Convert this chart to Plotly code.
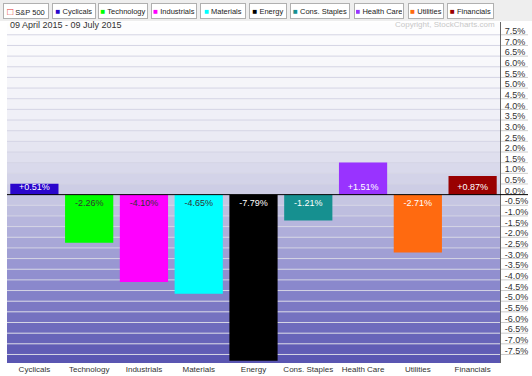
import numpy as np
import plotly.graph_objects as go

# ---- data ----
categories = ["Cyclicals", "Technology", "Industrials", "Materials", "Energy",
              "Cons. Staples", "Health Care", "Utilities", "Financials"]
values = [0.51, -2.26, -4.10, -4.65, -7.79, -1.21, 1.51, -2.71, 0.87]
bar_colors = ["#2a06cc", "#00ff00", "#ff00ff", "#00ffff", "#000000",
              "#169090", "#9933ff", "#ff6a10", "#990000"]
text_colors = ["#ffffff", "#333333", "#333333", "#333333", "#ffffff",
               "#ffffff", "#ffffff", "#ffffff", "#ffffff"]
legend_names = ["S&P 500"] + categories
legend_colors = ["#e03030"] + bar_colors
tick_values = [round(v, 1) for v in np.arange(-7.5, 7.51, 0.5)]
date_text = "09 April 2015 - 09 July 2015"
copyright_text = "Copyright, StockCharts.com"

# ---- layout geometry (pixels) ----
W, H = 532, 376
ML, MR, MT, MB = 7, 32, 22, 13
PW = W - ML - MR
PH = H - MT - MB
YMIN, YMAX = -7.9, 8.1
FONT = "Liberation Sans, Arial, sans-serif"


def px_x(px):
    return (px - ML) / PW


def px_y(py):
    return (H - MB - py) / PH


fig = go.Figure()
fig.add_trace(go.Bar(
    x=categories, y=values, width=0.88,
    marker=dict(color=bar_colors, line=dict(width=0)),
    text=[("+" if v > 0 else "") + f"{v:.2f}%" for v in values],
    textposition="inside", insidetextanchor="start",
    textfont=dict(family=FONT, size=9, color=text_colors),
    constraintext="none",
    showlegend=False, hoverinfo="skip",
))

shapes = []
# header band
shapes.append(dict(type="rect", xref="paper", yref="paper",
                   x0=px_x(0), x1=px_x(W), y0=px_y(MT - 1), y1=px_y(0),
                   fillcolor="#eeeeee", line=dict(width=0), layer="below"))
# gradient bands
anchor_y = [-8.0, -4.0, 0.0, 3.0, 8.2]
anchor_r = [86, 142, 202, 238, 255]
anchor_g = [82, 140, 202, 238, 255]
anchor_b = [176, 206, 228, 246, 255]
edges = [YMIN] + [v for v in np.arange(-7.5, 8.01, 0.5)] + [YMAX]
edges = sorted(set(round(e, 2) for e in edges if YMIN <= e <= YMAX))
for a, b in zip(edges[:-1], edges[1:]):
    m = (a + b) / 2
    r = int(np.interp(m, anchor_y, anchor_r))
    g = int(np.interp(m, anchor_y, anchor_g))
    bl = int(np.interp(m, anchor_y, anchor_b))
    shapes.append(dict(type="rect", xref="paper", yref="y", x0=0, x1=1,
                       y0=a, y1=b, fillcolor=f"rgb({r},{g},{bl})",
                       line=dict(width=0), layer="below"))
# grid lines (inside plot and extending under labels)
for t in tick_values:
    if t == 0:
        continue
    shapes.append(dict(type="line", xref="paper", yref="y", x0=0, x1=1,
                       y0=t, y1=t, line=dict(color="#d4d4e4", width=1),
                       layer="below"))
    shapes.append(dict(type="line", xref="paper", yref="y", x0=1, x1=px_x(528),
                       y0=t, y1=t, line=dict(color="#cccccc", width=1),
                       layer="below"))
# zero line
shapes.append(dict(type="line", xref="paper", yref="y", x0=0, x1=px_x(528),
                   y0=0, y1=0, line=dict(color="#000000", width=1), layer="above"))

annotations = []
# legend boxes
leg_left = [3, 52, 98, 151, 200, 249, 290, 354, 408, 447]
leg_right = [49, 96, 148, 197, 246, 287, 350, 404, 444, 494]
for i, (name, col) in enumerate(zip(legend_names, legend_colors)):
    if i == 0:
        sym = f"<span style='color:{col};font-size:10px'>□</span>"
    else:
        sym = f"<span style='color:{col};font-size:8px'>■</span>"
    annotations.append(dict(
        xref="paper", yref="paper", x=px_x(leg_left[i]), y=px_y(11),
        xanchor="left", yanchor="middle", showarrow=False,
        text=f"{sym} {name}",
        font=dict(family=FONT, size=7.5, color="#222222"),
        bgcolor="#ffffff", bordercolor="#b0b0b0", borderwidth=1, borderpad=1,
        width=leg_right[i] - leg_left[i] - 4, height=12, align="center",
    ))
annotations.append(dict(xref="paper", yref="paper", x=px_x(8), y=px_y(25),
                        xanchor="left", yanchor="middle", showarrow=False,
                        text=date_text, font=dict(family=FONT, size=9, color="#333333")))
annotations.append(dict(xref="paper", yref="paper", x=px_x(497), y=px_y(25),
                        xanchor="right", yanchor="middle", showarrow=False,
                        text=copyright_text, font=dict(family=FONT, size=8, color="#c8c8c8")))

fig.update_layout(
    width=W, height=H,
    margin=dict(l=ML, r=MR, t=MT, b=MB, pad=0, autoexpand=False),
    paper_bgcolor="#ffffff", plot_bgcolor="#ffffff",
    font=dict(family=FONT, size=9, color="#333333"),
    bargap=0.12,
    shapes=shapes, annotations=annotations,
    xaxis=dict(showgrid=False, zeroline=False, showline=False, ticks="",
               automargin=False,
               tickfont=dict(family=FONT, size=8, color="#333333"),
               fixedrange=True),
    yaxis=dict(side="right", range=[YMIN, YMAX], tickvals=tick_values,
               ticktext=[f"{t:.1f}%" for t in tick_values],
               showgrid=False, zeroline=False, showline=True, automargin=False,
               linecolor="#666666", linewidth=1, ticks="",
               ticklabelshift=-4, ticklabelstandoff=2,
               tickfont=dict(family=FONT, size=9, color="#333333"),
               fixedrange=True),
)

fig.write_html("out.html")
